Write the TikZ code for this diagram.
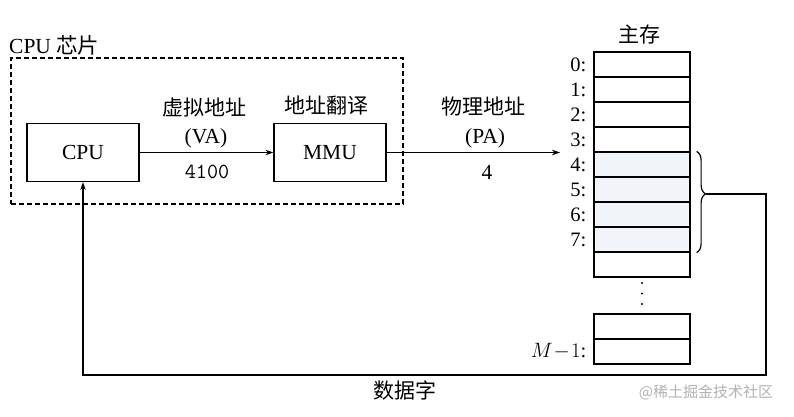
\documentclass[tikz,border=0pt]{standalone}
\usepackage{fontspec}
\setmainfont{Liberation Serif}
\newfontfamily\cjk{Noto Sans CJK SC}
\usetikzlibrary{arrows.meta,decorations.pathreplacing}
\definecolor{cellfill}{HTML}{F1F5F9}
\begin{document}
\begin{tikzpicture}[x=1pt,y=-1pt,
  every node/.style={font=\fontsize{21.5}{23}\selectfont},
  box/.style={draw,line width=1.2pt,minimum width=112pt,minimum height=58pt,inner sep=0pt},
  cell/.style={draw,line width=1.2pt,minimum width=96pt,minimum height=25pt,inner sep=0pt},
  hcell/.style={cell,fill=cellfill},
  lab/.style={anchor=east,inner sep=0pt,font=\fontsize{20.5}{22}\selectfont},
  cjkt/.style={font=\cjk\fontsize{21}{23}\selectfont},
  conn/.style={line width=1.1pt},
  arr/.style={conn,-{Stealth[length=8pt,width=5.5pt]}}]
\useasboundingbox (0,0) rectangle (794,417);
% chip
\node[draw,dash pattern=on 5pt off 3pt,line width=1.2pt,minimum width=392pt,minimum height=146pt,inner sep=0pt] (chip) at (207,131) {};
\node[anchor=west,inner sep=0pt] (chiplab) at (9,45) {CPU \cjk 芯片};
\node[box] (cpu) at (83,152.5) {CPU};
\node[box] (mmu) at (330,152.5) {MMU};
\node[cjkt] (va1) at (204,108) {虚拟地址};
\node (va2) at (206,138) {(VA)};
\node[font=\ttfamily\fontsize{21.5}{23}\selectfont] (va3) at (207,172) {4100};
\node[cjkt] (mmul) at (326,106) {地址翻译};
\node[cjkt] (pa1) at (483,107) {物理地址};
\node (pa2) at (485,138) {(PA)};
\node (pa3) at (487,172) {4};
% memory
\node[cjkt] (mainlab) at (639,35) {主存};
\foreach \i in {0,...,3} {
  \node[cell] (m\i) at (642,{64.5+25*\i}) {};
}
\foreach \i in {4,...,7} {
  \node[hcell] (m\i) at (642,{64.5+25*\i}) {};
}
\node[cell] (m8) at (642,264.5) {};
\foreach \i in {0,...,7} {
  \node[lab] (l\i) at ([xshift=-7pt]m\i.west) {\i:};
}
\node[cell] (ma) at (642,326.5) {};
\node[cell] (mb) at (642,351.5) {};
\node[lab] (lb) at ([xshift=-7pt]mb.west) {$M\!-\!1$:};
\fill (642,283) circle (1.2pt) (642,293.5) circle (1.2pt) (642,304) circle (1.2pt);
% connectors
\draw[arr] (cpu.east) -- (mmu.west);
\coordinate (paend) at (560,152.5);
\draw[arr] (mmu.east) -- (paend);
\draw[decorate,decoration={brace,amplitude=9pt,aspect=0.42},line width=1.2pt] ([xshift=6pt]m4.north east) -- ([xshift=6pt]m7.south east);
\coordinate (btip) at (706,194);
\coordinate (c1) at (766,194);
\coordinate (c2) at (766,375);
\coordinate (c3) at (83,375);
\draw[arr] (btip) -- (c1) -- (c2) -- (c3) -- (cpu.south);
\node[cjkt] (data) at (405,390) {数据字};
\node[font=\cjk\fontsize{15}{17}\selectfont,text=black!30] (wm) at (706,392) {@稀土掘金技术社区};
\end{tikzpicture}
\end{document}
